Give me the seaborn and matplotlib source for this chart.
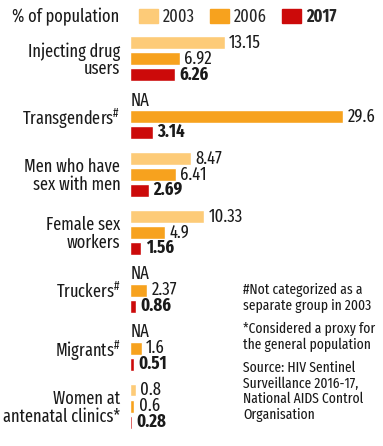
import pandas as pd
import numpy as np
import seaborn as sns
import matplotlib.pyplot as plt
from matplotlib.patches import Patch

# data
groups = ['Injecting drug\nusers', 'Transgenders$^{\\#}$', 'Men who have\nsex with men',
          'Female sex\nworkers', 'Truckers$^{\\#}$', 'Migrants$^{\\#}$',
          'Women at\nantenatal clinics*']
years = ['2003', '2006', '2017']
v2003 = [13.15, np.nan, 8.47, 10.33, np.nan, np.nan, 0.8]
v2006 = [6.92, 29.6, 6.41, 4.9, 2.37, 1.6, 0.6]
v2017 = [6.26, 3.14, 2.69, 1.56, 0.86, 0.51, 0.28]
colors = ['#FDCB78', '#F7A21E', '#CC0A0A']

notes = ['#Not categorized as a\nseparate group in 2003',
         '*Considered a proxy for\nthe general population',
         'Source: HIV Sentinel\nSurveillance 2016-17,\nNational AIDS Control\nOrganisation']

df = pd.DataFrame({'group': groups * 3,
                   'year': [y for y in years for _ in groups],
                   'value': v2003 + v2006 + v2017})

sns.set_style('white')
plt.rcParams['font.family'] = ['Fira Sans Extra Condensed', 'DejaVu Sans']
plt.rcParams['mathtext.fontset'] = 'custom'
plt.rcParams['mathtext.rm'] = 'Fira Sans Extra Condensed'

fig = plt.figure(figsize=(3.83, 4.46), dpi=100)
ax = fig.add_axes([130 / 383, 1 - 435 / 446, 252 / 383, 405.5 / 446])

sns.barplot(data=df, y='group', x='value', hue='year', palette=colors,
            orient='h', width=0.83, gap=0.19, saturation=1, ax=ax, legend=False)

ax.set_xlim(0, 35)
ax.set_ylim(6.5, -0.5)
ax.set_xlabel('')
ax.set_ylabel('')
ax.set_xticks([])
sns.despine(ax=ax, left=True, bottom=True)
ax.tick_params(axis='y', length=0, pad=7, labelsize=12.8, colors='#1a1a1a')
for t in ax.get_yticklabels():
    t.set_linespacing(0.98)

# value labels
offs = [-0.275, 0, 0.275]
for j, vals in enumerate([v2003, v2006, v2017]):
    for i, v in enumerate(vals):
        y = i + offs[j]
        if np.isnan(v):
            ax.text(0.05, y, 'NA', va='center', ha='left', fontsize=13, color='#1a1a1a')
        else:
            ax.text(v + 0.6, y, f'{v:g}', va='center', ha='left', fontsize=13,
                    color='#1a1a1a', fontweight='bold' if j == 2 else 'normal')

# legend
fig.text(12 / 383, 1 - 17 / 446, '% of population', fontsize=12.8, va='center', color='#1a1a1a')
handles = [Patch(color=c, label=y) for c, y in zip(colors, years)]
leg = fig.legend(handles=handles, loc='center left', bbox_to_anchor=(123 / 383, 1 - 17 / 446),
                 ncol=3, frameon=False, handlelength=1.05, handleheight=0.9,
                 handletextpad=0.3, columnspacing=0.85, fontsize=12.8)
leg.get_texts()[2].set_fontweight('bold')

# notes
for txt, ypx in zip(notes, [283, 322, 361]):
    fig.text(243 / 383, 1 - ypx / 446, txt, fontsize=10.6, va='top', ha='left',
             color='#1a1a1a', linespacing=1.1)

fig.savefig('out.png', dpi=100)
